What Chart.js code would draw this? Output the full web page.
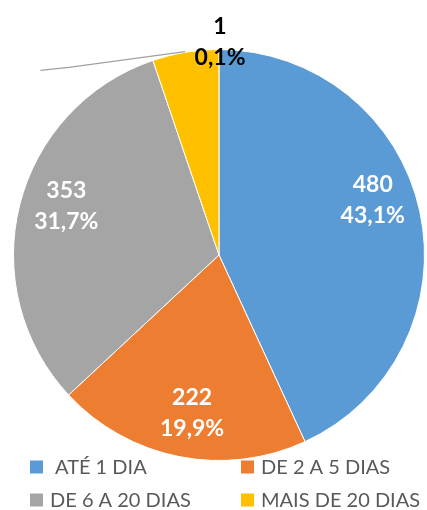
<!DOCTYPE html>
<html>
<head>
<meta charset="utf-8">
<script src="https://cdn.jsdelivr.net/npm/chart.js@4"></script>
<style>
  html, body { margin: 0; padding: 0; background: #fff; }
  #wrap { width: 427px; height: 510px; position: relative; }
</style>
</head>
<body>
<div id="wrap"><canvas id="chart"></canvas></div>
<script>
const categories = ['ATÉ 1 DIA', 'DE 2 A 5 DIAS', 'DE 6 A 20 DIAS', 'MAIS DE 20 DIAS'];
// slice sizes (yellow slice is about 5% wide)
const sliceValues = [480, 222, 353, 58];
// texts printed on the slices
const countLabels = ['480', '222', '353', '1'];
const percentLabels = ['43,1%', '19,9%', '31,7%', '0,1%'];
const sliceColors = ['#5b9bd5', '#ed7d31', '#a5a5a5', '#ffc000'];

// label centres as fractions of the radius, from the pie centre
const labelSpots = [[0.748, -0.27], [-0.131, 0.765], [-0.743, -0.24], [0.005, -1.04]];
const labelColors = ['#ffffff', '#ffffff', '#ffffff', '#000000'];

const sliceLabelsPlugin = {
    id: 'sliceLabels',
    afterDatasetsDraw(chart) {
        const ctx = chart.ctx;
        const arc = chart.getDatasetMeta(0).data[0];
        const cx = arc.x, cy = arc.y, r = arc.outerRadius;
        ctx.save();
        // leader line for the small slice
        ctx.strokeStyle = '#a0a0a0';
        ctx.lineWidth = 1.2;
        ctx.beginPath();
        ctx.moveTo(cx - 0.869 * r, cy - 0.898 * r);
        ctx.lineTo(cx - 0.73 * r, cy - 0.913 * r);
        ctx.lineTo(cx - 0.165 * r, cy - 0.99 * r);
        ctx.stroke();

        ctx.font = 'bold 23px Lato';
        ctx.textAlign = 'center';
        ctx.textBaseline = 'middle';
        labelSpots.forEach((p, i) => {
            const x = cx + p[0] * r, y = cy + p[1] * r;
            ctx.fillStyle = labelColors[i];
            ctx.fillText(countLabels[i], x, y - 15);
            ctx.fillText(percentLabels[i], x, y + 16);
        });
        ctx.restore();
    }
};

const gridLegendPlugin = {
    id: 'gridLegend',
    afterDraw(chart) {
        const ctx = chart.ctx;
        const cols = [30, 241], rows = [467, 500];
        ctx.save();
        ctx.font = '20px Lato';
        ctx.textBaseline = 'middle';
        ctx.textAlign = 'left';
        categories.forEach((name, i) => {
            const x = cols[i % 2], y = rows[Math.floor(i / 2)];
            ctx.fillStyle = sliceColors[i];
            ctx.fillRect(x, y - 6.5, 13, 13);
            ctx.fillStyle = '#595959';
            ctx.fillText(name, x + (i === 0 ? 25 : 20), y + 1);
        });
        ctx.restore();
    }
};

new Chart(document.getElementById('chart'), {
    type: 'pie',
    data: {
        labels: categories,
        datasets: [{
            data: sliceValues,
            backgroundColor: sliceColors,
            borderColor: '#ffffff',
            borderWidth: 1
        }]
    },
    options: {
        responsive: true,
        maintainAspectRatio: false,
        animation: false,
        layout: { padding: { top: 49, bottom: 49, left: 13, right: 2 } },
        plugins: {
            legend: { display: false },
            tooltip: { enabled: false }
        }
    },
    plugins: [sliceLabelsPlugin, gridLegendPlugin]
});
</script>
</body>
</html>
